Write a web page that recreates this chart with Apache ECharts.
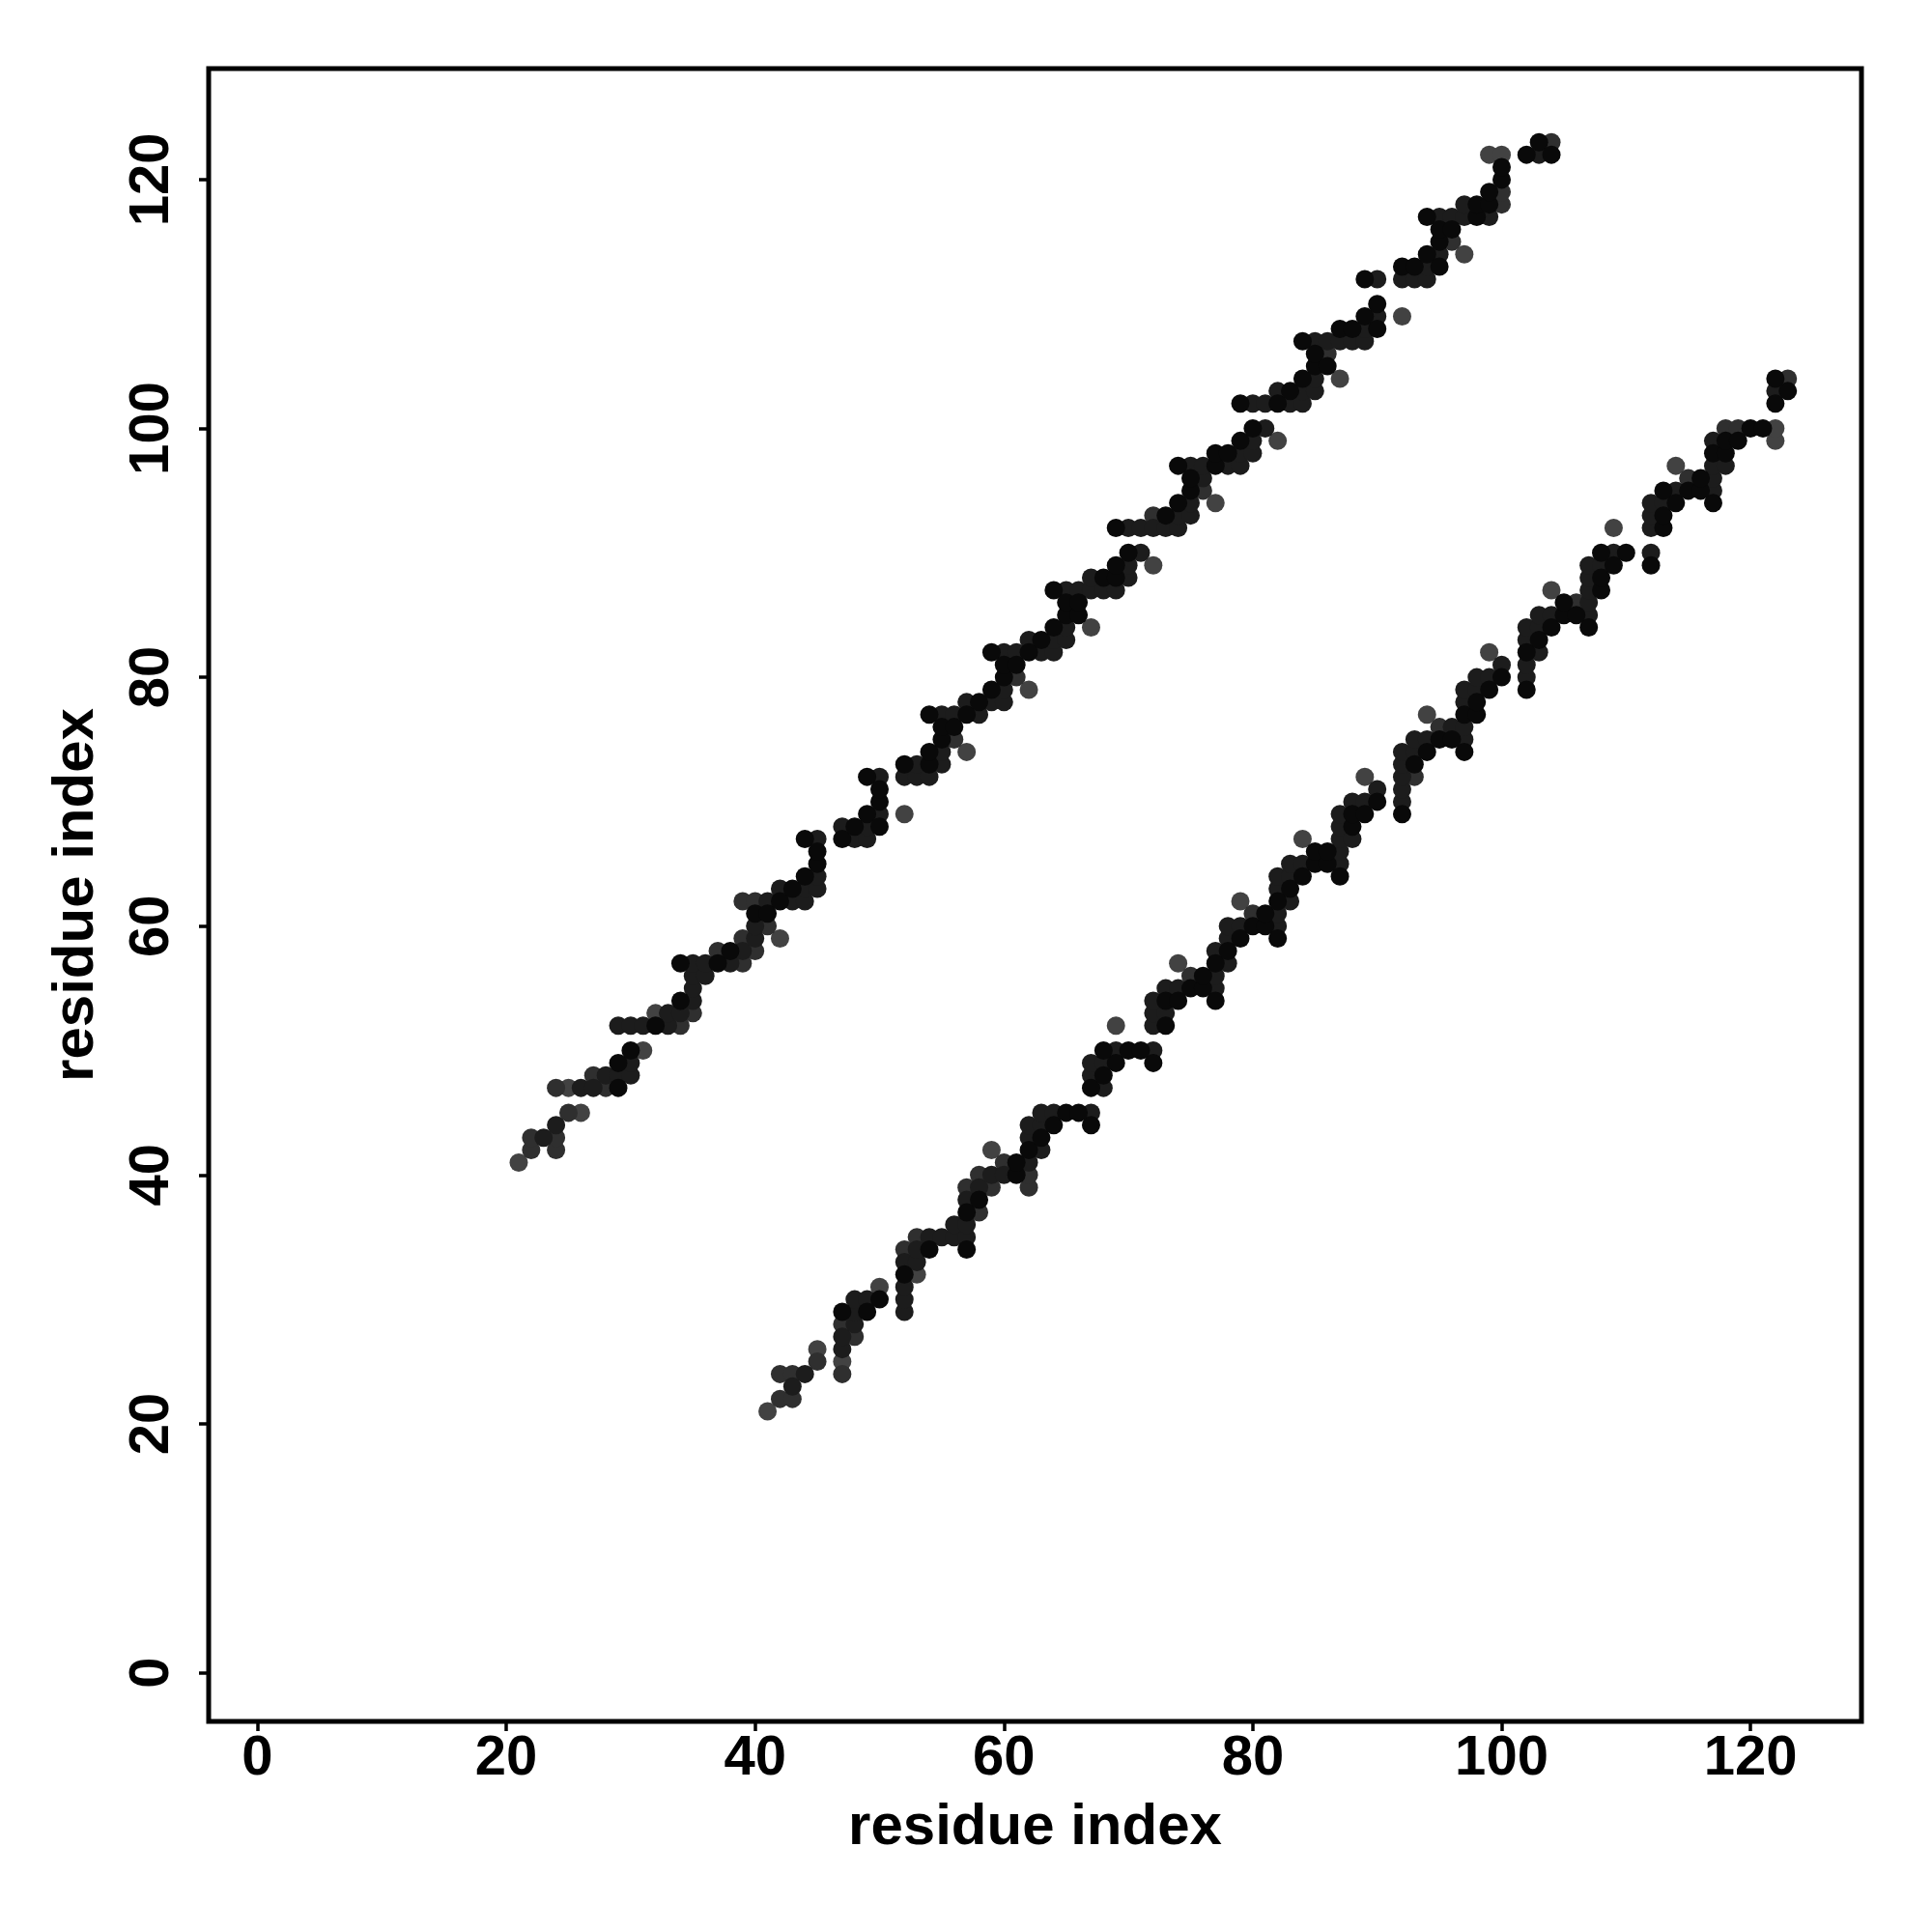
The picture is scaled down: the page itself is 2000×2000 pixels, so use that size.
<!DOCTYPE html>
<html>
<head>
<meta charset="utf-8">
<script src="https://cdn.jsdelivr.net/npm/echarts@6/dist/echarts.min.js"></script>
<style>html,body{margin:0;padding:0;background:#fff}#chart{width:2000px;height:2000px}</style>
</head>
<body>
<div id="chart"></div>
<script>
// Contact points (residue i, residue j) of the upper band; the map is symmetric.
const shadeBlack = [[29,47],[29,49],[30,50],[32,52],[34,54],[34,57],[37,57],[38,58],[40,61],[41,61],[42,62],[43,63],[44,64],[44,67],[45,65],[45,66],[47,67],[48,68],[49,69],[49,72],[50,68],[50,70],[50,71],[52,73],[54,73],[54,74],[54,77],[55,75],[55,76],[56,76],[57,77],[58,78],[59,79],[59,82],[60,80],[60,81],[61,81],[62,82],[63,83],[64,84],[64,87],[65,85],[65,86],[66,85],[66,86],[68,88],[69,88],[69,89],[69,92],[70,90],[73,93],[74,94],[74,97],[75,95],[75,96],[77,97],[77,98],[78,98],[79,99],[79,102],[80,100],[82,102],[83,103],[84,104],[84,107],[85,105],[85,106],[86,105],[87,108],[88,108],[89,109],[89,112],[90,108],[90,110],[92,113],[93,113],[94,114],[94,117],[95,113],[95,115],[95,116],[96,116],[98,117],[98,118],[99,118],[99,119],[100,120],[100,121],[102,122],[103,123],[104,122]];
const shadeDark = [[23,43],[24,44],[26,47],[27,47],[28,48],[29,48],[29,52],[30,48],[30,49],[30,52],[31,52],[33,52],[33,53],[34,53],[35,54],[35,55],[35,56],[35,57],[36,56],[36,57],[38,57],[39,58],[40,59],[40,60],[41,62],[42,63],[43,62],[44,62],[44,63],[45,63],[45,64],[45,67],[47,68],[48,67],[49,67],[49,68],[50,69],[50,72],[52,72],[53,72],[53,73],[54,72],[55,73],[55,74],[55,77],[56,77],[57,78],[58,77],[59,78],[60,78],[60,79],[60,82],[61,82],[62,83],[63,82],[64,82],[64,83],[65,83],[65,84],[65,87],[66,87],[67,87],[67,88],[68,87],[69,87],[70,88],[70,89],[70,92],[71,90],[71,92],[72,92],[73,92],[74,92],[74,93],[75,93],[75,94],[75,97],[76,96],[76,97],[78,97],[79,97],[79,98],[80,98],[80,99],[80,102],[81,100],[81,102],[82,103],[83,102],[84,102],[84,103],[85,103],[85,104],[85,107],[86,107],[87,107],[88,107],[89,107],[89,108],[90,109],[90,112],[92,112],[93,112],[94,112],[94,113],[95,114],[95,117],[96,117],[97,117],[97,118],[99,117],[103,122]];
const shadeMid = [[22,42],[22,43],[24,42],[24,43],[24,47],[25,45],[27,48],[28,47],[34,52],[35,53],[37,58],[39,57],[39,59],[39,62],[40,58],[40,62],[41,60],[56,75],[61,80],[72,93],[76,95],[86,106],[96,115],[100,118],[100,119],[104,123]];
const shadeLight = [[21,41],[25,47],[26,45],[31,50],[32,53],[42,59],[52,69],[57,74],[62,79],[67,84],[72,89],[77,94],[82,99],[87,104],[92,109],[97,114],[99,122],[100,122]];
const tickValues = [0, 20, 40, 60, 80, 100, 120];
const axisTitle = 'residue index';

const both = pts => pts.concat(pts.map(p => [p[1], p[0]]));
const FONT = '"Liberation Sans", Arial, Helvetica, sans-serif';

function mkSeries(pts, color) {
  return {
    type: 'scatter', data: both(pts), symbol: 'circle', symbolSize: 19,
    itemStyle: { color: color, opacity: 1 }, silent: true
  };
}

function mkAxis(isX) {
  return {
    type: 'value', min: -3.92, max: 128.92,
    name: axisTitle, nameLocation: 'middle', nameGap: isX ? 110 : 137,
    nameTextStyle: { fontFamily: FONT, fontWeight: 'bold', fontSize: 60, color: '#000', verticalAlign: 'middle' },
    axisLine: { show: false, onZero: false },
    axisTick: { show: true, inside: false, length: 10, lineStyle: { color: '#000', width: 3.5 },
      customValues: tickValues },
    axisLabel: { show: true, fontFamily: FONT, fontWeight: 'bold', fontSize: 58, color: '#000',
      margin: isX ? 10 : 29, rotate: isX ? 0 : 90, customValues: tickValues,
      formatter: v => String(v) },
    splitLine: { show: false }
  };
}

const chart = echarts.init(document.getElementById('chart'), null, { renderer: 'canvas' });
chart.setOption({
  animation: false,
  backgroundColor: '#fff',
  grid: { left: 216, top: 71, width: 1711, height: 1711, show: true, borderColor: '#000', borderWidth: 5, backgroundColor: 'transparent' },
  xAxis: mkAxis(true),
  yAxis: mkAxis(false),
  series: [
    mkSeries(shadeLight, '#424242'),
    mkSeries(shadeMid, '#2f2f2f'),
    mkSeries(shadeDark, '#1c1c1c'),
    mkSeries(shadeBlack, '#090909')
  ]
});
</script>
</body>
</html>
